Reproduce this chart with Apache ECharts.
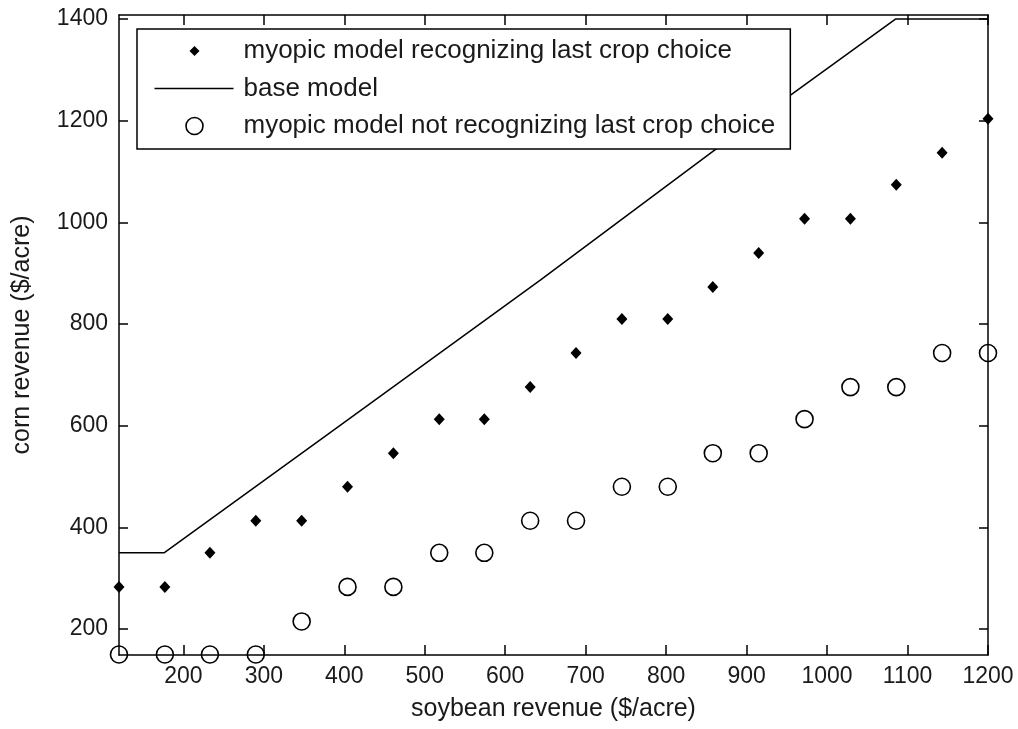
<!DOCTYPE html>
<html>
<head>
<meta charset="utf-8">
<script src="https://cdn.jsdelivr.net/npm/echarts@6/dist/echarts.min.js"></script>
<style>
html,body{margin:0;padding:0;background:#fff;}
#c{width:1018px;height:729px;}
</style>
</head>
<body>
<div id="c"></div>
<script>
// soybean revenue ($/acre) for the point series
var soybean = [120, 177, 233, 290, 347, 404, 461, 518, 574, 631, 688, 745, 802, 858, 915, 972, 1029, 1086, 1143, 1200];
// myopic model recognizing last crop choice (corn revenue)
var recognizing = [283, 283, 350, 413, 413, 480, 546, 613, 613, 676, 743, 810, 810, 873, 940, 1007, 1007, 1074, 1137, 1204];
// myopic model not recognizing last crop choice (corn revenue)
var notRecognizing = [150, 150, 150, 150, 215, 283, 283, 350, 350, 413, 413, 480, 480, 546, 546, 613, 676, 676, 743, 743];
// base model breakpoints
var baseX = [120, 176, 382, 644, 861, 1085, 1200];
var baseY = [350, 350, 586, 887, 1143, 1400, 1400];
// tick labels
var xTicks = [200, 300, 400, 500, 600, 700, 800, 900, 1000, 1100, 1200];
var yTicks = [200, 400, 600, 800, 1000, 1200, 1400];

var names = ['myopic model recognizing last crop choice', 'base model', 'myopic model not recognizing last crop choice'];

function zip(a, b) { return a.map(function (v, i) { return [v, b[i]]; }); }
function plain(v) { return String(v); }

var FONT = 'Liberation Sans';
var TXT = '#1a1a1a';
var axisLine = { show: true, onZero: false, lineStyle: { color: '#000', width: 1.5 } };
var tickLine = { color: '#000', width: 1.5 };

var chart = echarts.init(document.getElementById('c'));
chart.setOption({
  animation: false,
  backgroundColor: '#fff',
  grid: { left: 119, right: 30, top: 15, bottom: 74 },
  xAxis: [{
    type: 'value', min: 120, max: 1200, position: 'bottom',
    axisLine: axisLine,
    axisTick: { show: true, inside: true, length: 10, customValues: xTicks, lineStyle: tickLine },
    axisLabel: { customValues: xTicks, formatter: plain, margin: 10, color: TXT, fontFamily: FONT, fontSize: 23 },
    splitLine: { show: false },
    name: 'soybean revenue ($/acre)', nameLocation: 'middle', nameGap: 42,
    nameTextStyle: { color: TXT, fontFamily: FONT, fontSize: 25 }
  }, {
    type: 'value', min: 120, max: 1200, position: 'top',
    axisLine: axisLine,
    axisTick: { show: true, inside: true, length: 10, customValues: xTicks, lineStyle: tickLine },
    axisLabel: { show: false },
    splitLine: { show: false }
  }],
  yAxis: [{
    type: 'value', min: 149, max: 1408, position: 'left',
    axisLine: axisLine,
    axisTick: { show: true, inside: true, length: 9, customValues: yTicks, lineStyle: tickLine },
    axisLabel: { customValues: yTicks, formatter: plain, margin: 11, color: TXT, fontFamily: FONT, fontSize: 23 },
    splitLine: { show: false },
    name: 'corn revenue ($/acre)', nameLocation: 'middle', nameGap: 84, nameRotate: 90,
    nameTextStyle: { color: TXT, fontFamily: FONT, fontSize: 25 }
  }, {
    type: 'value', min: 149, max: 1408, position: 'right',
    axisLine: axisLine,
    axisTick: { show: true, inside: true, length: 9, customValues: yTicks, lineStyle: tickLine },
    axisLabel: { show: false },
    splitLine: { show: false }
  }],
  legend: {
    orient: 'vertical', left: 137, top: 29,
    padding: [9, 15, 10, 15],
    itemGap: 11.5, itemWidth: 84, itemHeight: 18,
    backgroundColor: '#fff', borderColor: '#000', borderWidth: 1.5,
    selectedMode: false,
    textStyle: { color: TXT, fontFamily: FONT, fontSize: 26 },
    data: [
      { name: names[0], icon: 'path://M0 0M84 18M40 4L45 9L40 14L35 9Z',
        itemStyle: { color: '#000', borderWidth: 0 } },
      { name: names[1], icon: 'path://M0 0M84 18M0 9L79 9',
        itemStyle: { color: 'none', borderColor: '#000', borderWidth: 1.5 } },
      { name: names[2], icon: 'path://M0 0M84 18M48.5 9A8.5 8.5 0 1 1 31.5 9A8.5 8.5 0 1 1 48.5 9Z',
        itemStyle: { color: 'none', borderColor: '#000', borderWidth: 1.6 } }
    ]
  },
  series: [{
    name: names[1], type: 'line', data: zip(baseX, baseY),
    symbol: 'none', clip: false,
    lineStyle: { color: '#000', width: 1.5 }, itemStyle: { color: '#000' }, z: 2
  }, {
    name: names[0], type: 'scatter', data: zip(soybean, recognizing),
    symbol: 'diamond', symbolSize: [11, 12], clip: false,
    itemStyle: { color: '#000', opacity: 1 }, z: 3
  }, {
    name: names[2], type: 'scatter', data: zip(soybean, notRecognizing),
    symbol: 'circle', symbolSize: 17, clip: false,
    itemStyle: { color: 'rgba(0,0,0,0)', borderColor: '#000', borderWidth: 1.6, opacity: 1 }, z: 3
  }]
});
</script>
</body>
</html>
